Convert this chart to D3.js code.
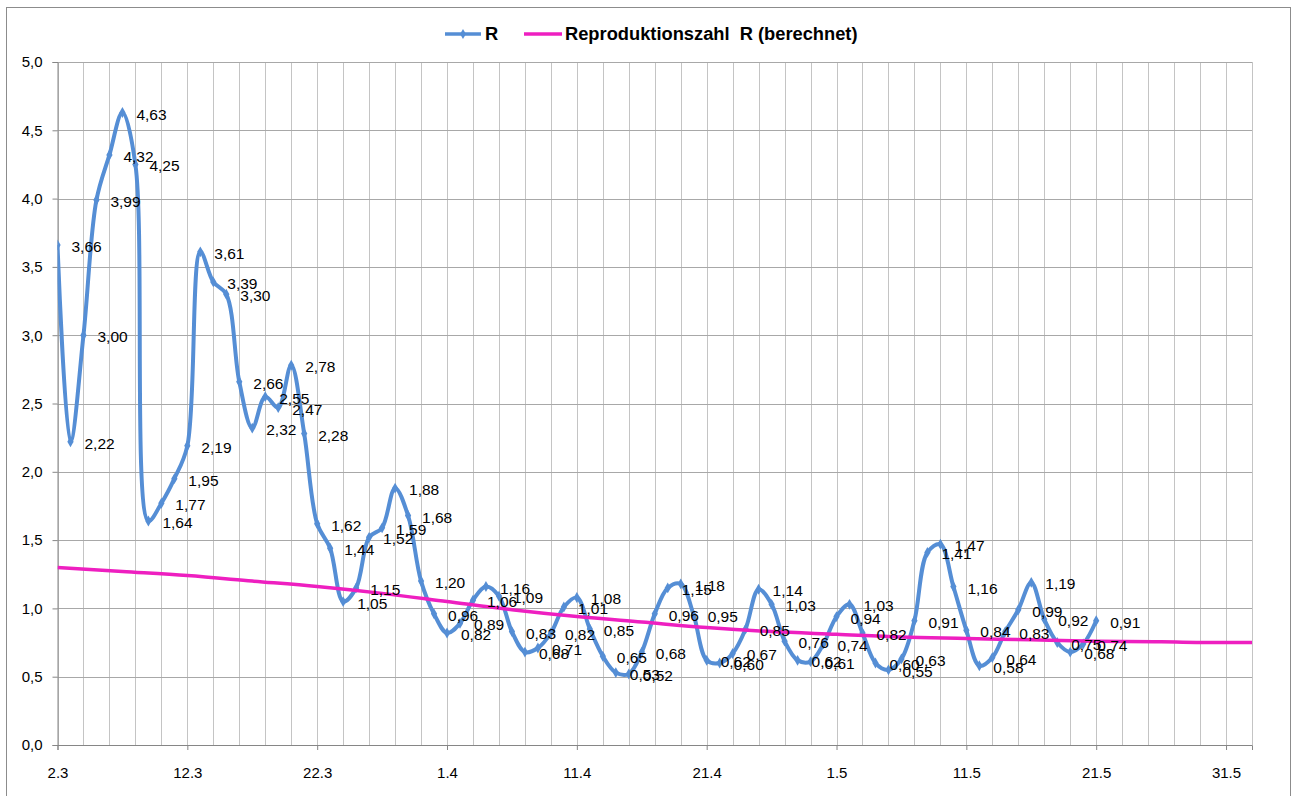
<!DOCTYPE html>
<html lang="de">
<head>
<meta charset="utf-8">
<title>Reproduktionszahl R</title>
<script src="https://cdn.jsdelivr.net/npm/d3@7"></script>
<style>
  body { margin: 0; background: #fff; }
  text { font-family: "Liberation Sans", Arial, sans-serif; }
</style>
</head>
<body>
<script>

// ---- data ----
// daily R values, first day 2.3.2020
var rStart = "2020-03-02";
var rValues = [3.66, 2.22, 3.00, 3.99, 4.32, 4.63, 4.25, 1.64, 1.77, 1.95,
               2.19, 3.61, 3.39, 3.30, 2.66, 2.32, 2.55, 2.47, 2.78, 2.28,
               1.62, 1.44, 1.05, 1.15, 1.52, 1.59, 1.88, 1.68, 1.20, 0.96,
               0.82, 0.89, 1.06, 1.16, 1.09, 0.83, 0.68, 0.71, 0.82, 1.01,
               1.08, 0.85, 0.65, 0.53, 0.52, 0.68, 0.96, 1.15, 1.18, 0.95,
               0.62, 0.60, 0.67, 0.85, 1.14, 1.03, 0.76, 0.62, 0.61, 0.74,
               0.94, 1.03, 0.82, 0.60, 0.55, 0.63, 0.91, 1.41, 1.47, 1.16,
               0.84, 0.58, 0.64, 0.83, 0.99, 1.19, 0.92, 0.75, 0.68, 0.74,
               0.91];

// computed R (pink curve), read every 5 days
var calcDates = ["2020-03-02", "2020-03-07", "2020-03-12", "2020-03-17", "2020-03-22",
                 "2020-03-27", "2020-04-01", "2020-04-06", "2020-04-11", "2020-04-16",
                 "2020-04-21", "2020-04-26", "2020-05-01", "2020-05-06", "2020-05-11",
                 "2020-05-16", "2020-05-21", "2020-05-26", "2020-05-31", "2020-06-02"];
var calcValues = [1.30, 1.27, 1.24, 1.20, 1.16,
                  1.11, 1.05, 0.99, 0.94, 0.90,
                  0.86, 0.83, 0.81, 0.79, 0.78,
                  0.77, 0.76, 0.755, 0.75, 0.75];

var xTicks = ["2020-03-02", "2020-03-12", "2020-03-22", "2020-04-01", "2020-04-11",
              "2020-04-21", "2020-05-01", "2020-05-11", "2020-05-21", "2020-05-31"];
var yTicks = [0, 0.5, 1.0, 1.5, 2.0, 2.5, 3.0, 3.5, 4.0, 4.5, 5.0];

var seriesNames = ["R", "Reproduktionszahl  R (berechnet)"];
var seriesColors = ["#558ED5", "#EE1FC0"];

// ---- layout ----
var width = 1298, height = 796;
var plot = {left: 57.5, right: 1252, top: 62, bottom: 745};

var parse = d3.utcParse("%Y-%m-%d");
var day0 = parse(rStart);

var rData = rValues.map(function(v, i) {
  return {date: d3.utcDay.offset(day0, i), value: v};
});
var calcData = calcDates.map(function(d, i) {
  return {date: parse(d), value: calcValues[i]};
});

var x = d3.scaleUtc()
  .domain([parse("2020-03-02"), parse("2020-06-02")])
  .range([plot.left, plot.right]);
var y = d3.scaleLinear()
  .domain([0, 5])
  .range([plot.bottom, plot.top]);

var comma = function(fmt) {
  var f = d3.format(fmt);
  return function(v) { return f(v).replace(".", ","); };
};

var svg = d3.select("body").append("svg")
  .attr("width", width)
  .attr("height", height);

svg.append("rect")
  .attr("width", width).attr("height", height)
  .attr("fill", "#fff");

// chart border
svg.append("rect")
  .attr("x", 6.5).attr("y", 7.5)
  .attr("width", 1284).attr("height", 810)
  .attr("fill", "none")
  .attr("stroke", "#8c8c8c");

// vertical gridlines every 2 days
var gridDays = d3.utcDay.range(x.domain()[0], d3.utcDay.offset(x.domain()[1], 1), 2);
svg.append("g")
  .selectAll("line")
  .data(gridDays)
  .enter().append("line")
  .attr("x1", function(d) { return Math.round(x(d)) + 0.5; })
  .attr("x2", function(d) { return Math.round(x(d)) + 0.5; })
  .attr("y1", plot.top)
  .attr("y2", plot.bottom)
  .attr("stroke", "#c4c4c4");

// horizontal gridlines
svg.append("g")
  .selectAll("line")
  .data(yTicks.slice(1))
  .enter().append("line")
  .attr("x1", plot.left)
  .attr("x2", plot.right)
  .attr("y1", function(d) { return Math.round(y(d)) + 0.5; })
  .attr("y2", function(d) { return Math.round(y(d)) + 0.5; })
  .attr("stroke", "#a8a8a8");

// axes
var yAxis = d3.axisLeft(y)
  .tickValues(yTicks)
  .tickSize(5)
  .tickPadding(10)
  .tickFormat(comma(".1f"));

var xAxis = d3.axisBottom(x)
  .tickValues(xTicks.map(parse))
  .tickSize(5)
  .tickPadding(17)
  .tickFormat(d3.utcFormat("%-d.%-m"));

var gy = svg.append("g")
  .attr("transform", "translate(" + plot.left + ",0)")
  .call(yAxis);
var gx = svg.append("g")
  .attr("transform", "translate(0," + plot.bottom + ")")
  .call(xAxis);

[gx, gy].forEach(function(g) {
  g.select(".domain").attr("stroke", "#868686");
  g.selectAll(".tick line").attr("stroke", "#868686");
  g.selectAll("text")
    .attr("fill", "#000")
    .style("font-size", "15px")
    .style("font-family", "'Liberation Sans', Arial, sans-serif");
});

// clip to plot area
svg.append("clipPath").attr("id", "plotclip")
  .append("rect")
  .attr("x", plot.left).attr("y", plot.top - 5)
  .attr("width", plot.right - plot.left).attr("height", plot.bottom - plot.top + 5);

var line = d3.line()
  .x(function(d) { return x(d.date); })
  .y(function(d) { return y(d.value); })
  .curve(d3.curveCatmullRom.alpha(0.5));

var lines = svg.append("g").attr("clip-path", "url(#plotclip)");

// R series
lines.append("path")
  .datum(rData)
  .attr("d", line)
  .attr("fill", "none")
  .attr("stroke", seriesColors[0])
  .attr("stroke-width", 4)
  .attr("stroke-linejoin", "round");

lines.selectAll(".marker")
  .data(rData)
  .enter().append("path")
  .attr("class", "marker")
  .attr("transform", function(d) { return "translate(" + x(d.date) + "," + y(d.value) + ")"; })
  .attr("d", d3.symbol().type(d3.symbolDiamond).size(34))
  .attr("fill", seriesColors[0]);

// computed R series
lines.append("path")
  .datum(calcData)
  .attr("d", d3.line()
    .x(function(d) { return x(d.date); })
    .y(function(d) { return y(d.value); })
    .curve(d3.curveMonotoneX))
  .attr("fill", "none")
  .attr("stroke", seriesColors[1])
  .attr("stroke-width", 3.5);

// data labels
svg.append("g")
  .selectAll("text")
  .data(rData)
  .enter().append("text")
  .attr("x", function(d) { return x(d.date) + 14; })
  .attr("y", function(d) { return y(d.value) + 7; })
  .style("font-size", "15.5px")
  .attr("fill", "#000")
  .text(function(d) { return comma(".2f")(d.value); });

// legend
var legend = svg.append("g");
legend.append("line")
  .attr("x1", 445).attr("x2", 481).attr("y1", 34).attr("y2", 34)
  .attr("stroke", seriesColors[0]).attr("stroke-width", 3.5);
legend.append("path")
  .attr("transform", "translate(463,34)")
  .attr("d", d3.symbol().type(d3.symbolDiamond).size(30))
  .attr("fill", seriesColors[0]);
legend.append("text")
  .attr("x", 485).attr("y", 40)
  .style("font-size", "18.3px").style("font-weight", "bold")
  .text(seriesNames[0]);
legend.append("line")
  .attr("x1", 524).attr("x2", 562).attr("y1", 34).attr("y2", 34)
  .attr("stroke", seriesColors[1]).attr("stroke-width", 3.5);
legend.append("text")
  .attr("x", 565).attr("y", 40)
  .style("font-size", "18.3px").style("font-weight", "bold")
  .attr("xml:space", "preserve")
  .style("white-space", "pre")
  .text(seriesNames[1]);

</script>
</body>
</html>
